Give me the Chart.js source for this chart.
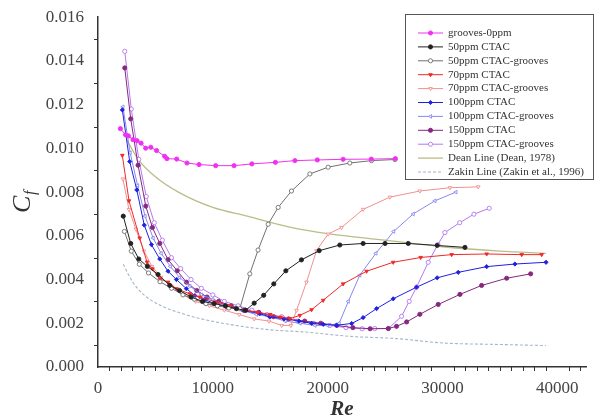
<!DOCTYPE html>
<html>
<head>
<meta charset="utf-8">
<script src="https://cdn.jsdelivr.net/npm/chart.js@4.4.0/dist/chart.umd.min.js"></script>
<style>
  html,body{margin:0;padding:0;background:#fff;}
  #wrap{width:601px;height:419px;position:relative;}
</style>
</head>
<body>
<div id="wrap"><canvas id="cfChart"></canvas></div>
<script>
// --- data (Re, Cf) ---
const g0Re   = [1950,2400,2650,3050,3400,3750,4150,4600,5100,5800,6000,6850,7750,8800,10250,11850,13400,15450,17150,19100,21350,23800,25900];
const g0Cf   = [0.0109,0.01062,0.01057,0.0104,0.01035,0.01024,0.01001,0.01005,0.0099,0.00964,0.00953,0.00951,0.00933,0.00926,0.00921,0.00921,0.00929,0.00936,0.00944,0.00947,0.0095,0.00951,0.00953];

const c50Re  = [2200,2850,3550,4300,5230,6250,7100,8100,9100,10100,11100,12050,12850,13600,14430,15310,16360,17720,19260,21060,23090,25000,27020,29540,31960];
const c50Cf  = [0.0069,0.00565,0.00494,0.0046,0.00423,0.00373,0.0035,0.0032,0.003,0.0029,0.0028,0.00267,0.00259,0.00292,0.00328,0.0038,0.0044,0.0049,0.00532,0.00558,0.00565,0.00565,0.00565,0.00556,0.00547];

const g50Re  = [2300,2900,3600,4400,5400,6400,7400,8400,9400,10400,11400,12350,13220,13940,14820,15690,16850,18450,20040,21930,23820,25860];
const g50Cf  = [0.0062,0.0053,0.0047,0.0043,0.0039,0.0036,0.0033,0.0031,0.0029,0.0028,0.0027,0.00267,0.00426,0.00535,0.00653,0.0073,0.00805,0.00883,0.00914,0.00933,0.00944,0.00949];

const c70Re  = [2120,2700,3630,4270,4740,5380,6100,6830,7990,8860,10320,11500,12700,13900,15000,15900,16700,17580,18600,19610,21350,23390,25710,28100,30800,33850,36900,38640];
const c70Cf  = [0.00968,0.0076,0.0059,0.0048,0.00449,0.00403,0.00388,0.00358,0.00335,0.0032,0.00297,0.0028,0.0026,0.0025,0.0024,0.00228,0.00221,0.00236,0.00262,0.00305,0.0038,0.00438,0.00479,0.00501,0.00514,0.00517,0.00514,0.00514];

const g70Re  = [2170,2700,3300,4000,4700,5500,6400,7400,8500,9700,11000,12300,13600,14900,16000,16800,17290,18160,19030,20040,21210,23090,25420,28030,30650,33120];
const g70Cf  = [0.0086,0.0072,0.0063,0.0053,0.0046,0.0041,0.0037,0.0033,0.003,0.0028,0.0026,0.0024,0.0022,0.0021,0.0019,0.0019,0.00259,0.00388,0.00532,0.00608,0.00638,0.00721,0.00777,0.00805,0.0082,0.00824];

const c100Re = [2120,2760,3380,4030,4650,5380,6100,6830,7700,8430,9300,10170,11190,12640,14090,14960,16200,17500,18600,19610,20780,22090,23090,24260,25710,27740,29540,31370,33850,36310,39020];
const c100Cf = [0.01176,0.0094,0.0081,0.00649,0.0056,0.00494,0.00438,0.004,0.00358,0.00327,0.00308,0.0029,0.00274,0.00259,0.00244,0.00229,0.0022,0.0021,0.002,0.00195,0.00191,0.00199,0.00226,0.00267,0.00312,0.00365,0.00408,0.00433,0.00459,0.00471,0.00479];

const g100Re = [2170,2800,3450,4100,4800,5500,6300,7100,8000,9000,10000,11200,12500,13800,15000,16300,17600,18900,20000,21000,21800,22800,24200,25750,27450,29340,31170];
const g100Cf = [0.0119,0.0098,0.0083,0.0069,0.0059,0.0052,0.0046,0.0041,0.0037,0.0033,0.0031,0.0028,0.0026,0.0024,0.0023,0.0021,0.002,0.0019,0.0019,0.002,0.003,0.0042,0.0052,0.0062,0.007,0.0076,0.008];

const c150Re = [2330,2850,3490,4160,4740,5380,6100,6900,7700,8600,9500,10500,11600,12800,14000,15300,16600,18000,19400,20800,22200,23700,25280,26000,26880,28030,29630,31520,33410,35590,37680];
const c150Cf = [0.01368,0.01135,0.00923,0.00736,0.00638,0.00565,0.00491,0.0044,0.00388,0.0035,0.0032,0.003,0.0028,0.0026,0.0025,0.0023,0.0022,0.0021,0.002,0.0019,0.0018,0.00175,0.00176,0.00186,0.00206,0.00241,0.00286,0.00332,0.00373,0.00406,0.00426];

const g150Re = [2330,2900,3550,4200,4900,5600,6400,7200,8100,9000,10000,11000,12200,13400,14700,16000,17400,18800,20200,21600,23000,24100,25300,26440,27100,27740,28760,29600,30210,31500,32740,34070];
const g150Cf = [0.01444,0.0118,0.0095,0.0078,0.0066,0.0058,0.005,0.0045,0.004,0.0036,0.0033,0.003,0.0028,0.0026,0.0024,0.0023,0.0021,0.002,0.0019,0.0018,0.00175,0.00176,0.00176,0.00232,0.003,0.00365,0.00479,0.0056,0.00615,0.0066,0.00699,0.00726];

const deanRe  = [2500,3500,5000,7000,10000,13000,16700,20000,25000,30000,35000,39000];
const deanCf  = [0.0104,0.0095,0.0087,0.008,0.0073,0.0069,0.0064,0.0061,0.0058,0.0055,0.0053,0.0052];

const zakinRe = [2200,3000,4000,5500,7000,9000,12000,15000,18000,22000,26000,30000,35000,39000];
const zakinCf = [0.0047,0.0039,0.0033,0.0028,0.0025,0.0022,0.0019,0.0017,0.0016,0.0014,0.0013,0.0011,0.00103,0.00098];

const xTicks = [0,10000,20000,30000,40000];

const pts = (re,cf) => re.map((r,i)=>({x:r,y:cf[i]}));

const mk = (label,re,cf,col,style,filled,rot,extra) => Object.assign({
  label, data:pts(re,cf),
  borderColor:col, backgroundColor:filled?col:'#fff',
  pointBorderColor:col, pointBackgroundColor:filled?col:'#fff',
  pointStyle:style, pointRotation:rot||0,
  pointRadius:2.1, pointBorderWidth:0.9, borderWidth:1,
  tension:0, fill:false
}, extra||{});

const smooth = {pointRadius:0,cubicInterpolationMode:'monotone'};

const datasets = [
  mk('grooves-0ppm',          g0Re,  g0Cf,  '#f030f0','circle',  true),
  mk('50ppm CTAC',            c50Re, c50Cf, '#222222','circle',  true),
  mk('50ppm CTAC-grooves',    g50Re, g50Cf, '#707070','circle',  false),
  mk('70ppm CTAC',            c70Re, c70Cf, '#f02828','triangle',true, 180),
  mk('70ppm CTAC-grooves',    g70Re, g70Cf, '#f09090','triangle',false,180),
  mk('100ppm CTAC',           c100Re,c100Cf,'#2020e0','rectRot', true),
  mk('100ppm CTAC-grooves',   g100Re,g100Cf,'#8888f0','triangle',false,-90),
  mk('150ppm CTAC',           c150Re,c150Cf,'#85287e','circle',  true),
  mk('150ppm CTAC-grooves',   g150Re,g150Cf,'#b478f0','circle',  false),
  mk('Dean Line (Dean, 1978)',deanRe,deanCf,'#bcbc88','circle',  true, 0,Object.assign({borderWidth:1.3},smooth)),
  mk('Zakin Line (Zakin et al., 1996)',zakinRe,zakinCf,'#a4b6c8','circle',true,0,Object.assign({borderWidth:1.1,borderDash:[3,2]},smooth))
];

// minor ticks + axis titles + boxed legend
const deco = {
  id:'deco',
  afterDraw(chart){
    const {ctx,scales:{x,y}} = chart;
    ctx.save();
    ctx.strokeStyle='#333'; ctx.lineWidth=1;
    for(let v=1000;v<=42500;v+=1000){
      if(v%10000===0) continue;
      const px=Math.round(x.getPixelForValue(v))+.5;
      ctx.beginPath(); ctx.moveTo(px,y.bottom); ctx.lineTo(px,y.bottom+4); ctx.stroke();
    }
    for(let k=1;k<16;k+=2){
      const py=Math.round(y.getPixelForValue(k/1000))+.5;
      ctx.beginPath(); ctx.moveTo(x.left-4,py); ctx.lineTo(x.left,py); ctx.stroke();
    }
    // titles
    ctx.fillStyle='#333';
    ctx.font="bold italic 21px 'Liberation Serif',serif";
    ctx.textAlign='center'; ctx.textBaseline='middle';
    ctx.fillText('Re',(x.left+x.right)/2,410);
    ctx.save();
    ctx.translate(24,205); ctx.rotate(-Math.PI/2);
    ctx.font="italic 26px 'Liberation Serif',serif";
    ctx.textAlign='left'; ctx.textBaseline='alphabetic';
    ctx.fillText('C',-8,6);
    ctx.font="italic 16px 'Liberation Serif',serif";
    ctx.fillText('f',10,11);
    ctx.restore();
    // legend box
    const L=405,T=14,R=593,B=179;
    ctx.fillStyle='#fff'; ctx.fillRect(L,T,R-L,B-T);
    ctx.strokeStyle='#555'; ctx.lineWidth=1;
    ctx.strokeRect(L+.5,T+.5,R-L,B-T);
    ctx.font="11px 'Liberation Serif',serif";
    ctx.textAlign='left'; ctx.textBaseline='middle';
    chart.data.datasets.forEach((d,i)=>{
      const yy=33+i*13.9;
      ctx.save();
      ctx.strokeStyle=d.borderColor; ctx.lineWidth=d.borderWidth;
      ctx.setLineDash(d.borderDash||[]);
      ctx.beginPath(); ctx.moveTo(418,yy); ctx.lineTo(443,yy); ctx.stroke();
      ctx.setLineDash([]);
      if(d.pointRadius>0){
        ctx.fillStyle=d.pointBackgroundColor; ctx.strokeStyle=d.pointBorderColor; ctx.lineWidth=0.9;
        Chart.helpers.drawPoint(ctx,{pointStyle:d.pointStyle,rotation:d.pointRotation,radius:2.1,borderWidth:0.9},430.5,yy);
      }
      ctx.restore();
      ctx.fillStyle='#333';
      ctx.fillText(d.label,448,yy);
    });
    ctx.restore();
  }
};

new Chart(document.getElementById('cfChart'),{
  type:'line',
  data:{datasets},
  plugins:[deco],
  options:{
    responsive:true, maintainAspectRatio:false, animation:false,
    layout:{padding:{top:13,right:15,left:0,bottom:0}},
    plugins:{legend:{display:false},tooltip:{enabled:false}},
    scales:{
      x:{
        type:'linear', min:0, max:42500,
        afterBuildTicks:s=>{s.ticks=xTicks.map(v=>({value:v}));},
        afterFit:s=>{s.height=52;},
        grid:{display:false,drawTicks:true,tickLength:7,tickColor:'#333',tickWidth:1},
        border:{color:'#333',width:1.5},
        ticks:{color:'#444',padding:4,maxRotation:0,font:{family:"'Liberation Serif',serif",size:17},callback:v=>String(v)}
      },
      y:{
        min:0, max:0.016,
        ticks:{stepSize:0.002,color:'#444',padding:7,font:{family:"'Liberation Serif',serif",size:17},callback:v=>v.toFixed(3)},
        afterFit:s=>{s.width=98;},
        grid:{display:false,drawTicks:true,tickLength:7,tickColor:'#333',tickWidth:1},
        border:{color:'#333',width:1.5}
      }
    }
  }
});
</script>
</body>
</html>
